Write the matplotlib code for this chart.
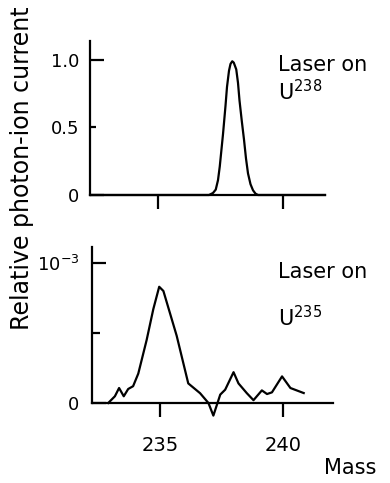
import numpy as np
import matplotlib
matplotlib.use("Agg")
import matplotlib.pyplot as plt

# U-238 peak, laser on (relative photon-ion current)
mass_238 = [232.3, 237.04, 237.2, 237.31, 237.4, 237.47, 237.6, 237.7, 237.76, 237.84,
            237.9, 237.97, 238.03, 238.13, 238.2, 238.26, 238.35, 238.44, 238.52,
            238.6, 238.7, 238.8, 238.9, 239.0, 241.68]
current_238 = [0, 0, 0.015, 0.04, 0.11, 0.21, 0.45, 0.66, 0.8, 0.92,
               0.97, 0.99, 0.98, 0.93, 0.83, 0.7, 0.55, 0.41, 0.27,
               0.16, 0.08, 0.035, 0.01, 0, 0]

# U-235 trace, laser on (units of 1e-3)
mass_235 = [232.9, 233.17, 233.34, 233.53, 233.71, 233.91, 234.12, 234.46, 234.73,
            234.97, 235.14, 235.41, 235.68, 236.15, 236.63, 236.97, 237.17, 237.45,
            237.65, 237.99, 238.19, 238.53, 238.8, 239.14, 239.35, 239.55, 239.96,
            240.3, 240.84]
current_235 = [0, 0.048, 0.107, 0.048, 0.1, 0.12, 0.21, 0.45, 0.67,
               0.83, 0.80, 0.64, 0.48, 0.14, 0.07, 0, -0.09, 0.06,
               0.095, 0.22, 0.14, 0.07, 0.02, 0.09, 0.064, 0.076, 0.19,
               0.107, 0.071]

fig = plt.figure(figsize=(3.9, 4.83), dpi=100)
lw = 1.6

# top panel
ax1 = fig.add_axes([90 / 390, 1 - 195 / 483, 235 / 390, 154 / 483])
ax1.plot(mass_238, current_238, color="black", lw=lw, clip_on=False)
ax1.set_xlim(232.28, 241.68)
ax1.set_ylim(0, 1.14)
for s in ["top", "right"]:
    ax1.spines[s].set_visible(False)
for s in ["left", "bottom"]:
    ax1.spines[s].set_linewidth(lw)
ax1.set_xticks([235, 240], ["", ""])
ax1.tick_params(axis="x", direction="out", length=10, width=lw)
ax1.set_yticks([0, 1.0], ["0", "1.0"])
ax1.set_yticks([0.5], ["0.5"], minor=True)
ax1.tick_params(axis="y", which="major", direction="in", length=10, width=lw, pad=8, labelsize=13)
ax1.tick_params(axis="y", which="minor", direction="in", length=4, width=lw, pad=8, labelsize=13)

# bottom panel
ax2 = fig.add_axes([92 / 390, 1 - 424 / 483, 241 / 390, 177 / 483])
ax2.plot(mass_235, current_235, color="black", lw=lw)
ax2.set_xlim(232.24, 242.03)
ax2.set_ylim(-0.15, 1.114)
for s in ["top", "right"]:
    ax2.spines[s].set_visible(False)
for s in ["left", "bottom"]:
    ax2.spines[s].set_linewidth(lw)
ax2.spines["bottom"].set_position(("data", 0))
ax2.spines["left"].set_bounds(0, 1.114)
ax2.set_xticks([235, 240], ["235", "240"])
ax2.tick_params(axis="x", direction="out", length=10, width=lw, pad=14, labelsize=14)
ax2.set_yticks([0, 1.0], ["0", r"$10^{-3}$"])
ax2.set_yticks([0.5], [""], minor=True)
ax2.tick_params(axis="y", which="major", direction="in", length=10, width=lw, pad=9, labelsize=13)
ax2.tick_params(axis="y", which="minor", direction="in", length=6, width=lw)

# annotations
fig.text(278 / 390, 1 - 65 / 483, "Laser on", fontsize=15, va="center", ha="left")
fig.text(278 / 390, 1 - 92 / 483, r"U$^{238}$", fontsize=15, va="center", ha="left")
fig.text(278 / 390, 1 - 272 / 483, "Laser on", fontsize=15, va="center", ha="left")
fig.text(278 / 390, 1 - 318 / 483, r"U$^{235}$", fontsize=15, va="center", ha="left")
fig.text(350 / 390, 1 - 468 / 483, "Mass", fontsize=15, va="center", ha="center")
fig.text(22 / 390, 1 - 168 / 483, "Relative photon-ion current", fontsize=17,
         rotation=90, va="center", ha="center")

fig.savefig("out.png", dpi=100)
